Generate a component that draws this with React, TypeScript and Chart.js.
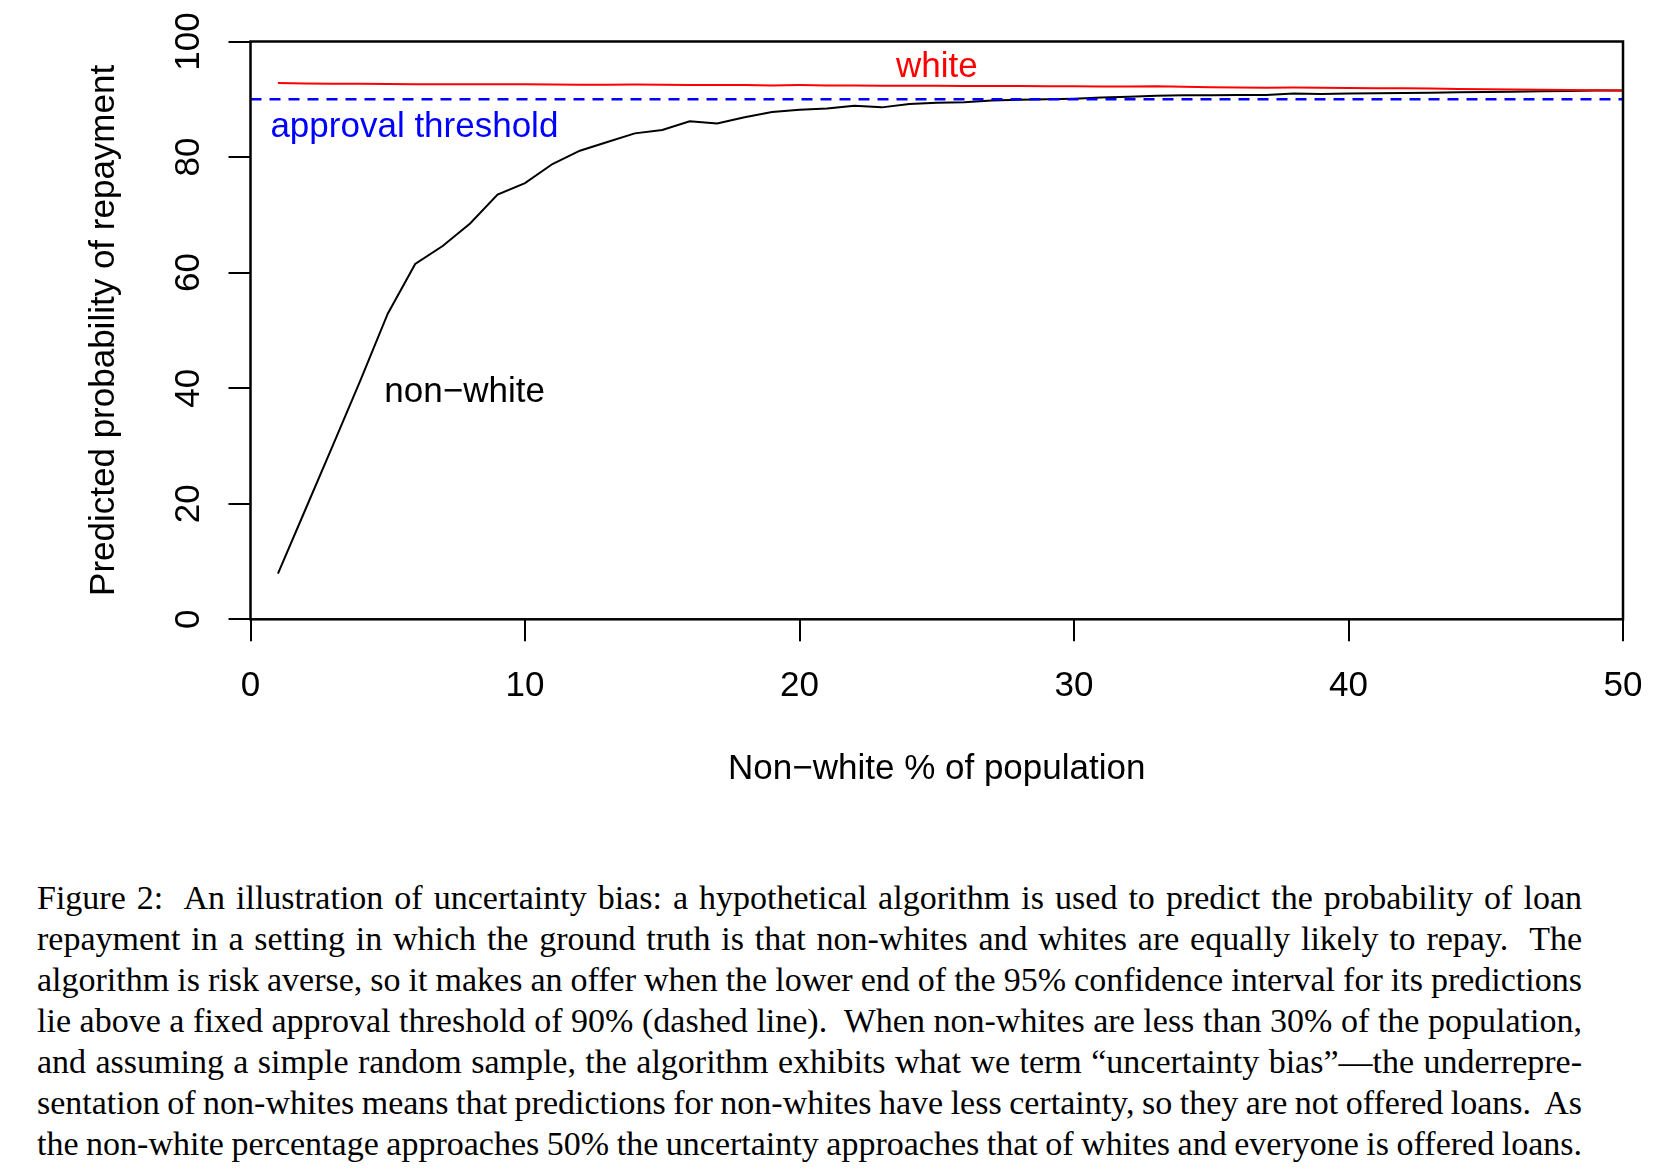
import React, { useEffect, useRef } from "react";
import { Chart, registerables } from "chart.js";

Chart.register(...registerables);

// ---------- data ----------
const xValues = [
  1, 2, 3, 4, 5, 6, 7, 8, 9, 10,
  11, 12, 13, 14, 15, 16, 17, 18, 19, 20,
  21, 22, 23, 24, 25, 26, 27, 28, 29, 30,
  31, 32, 33, 34, 35, 36, 37, 38, 39, 40,
  41, 42, 43, 44, 45, 46, 47, 48, 49, 50,
];

const nonWhiteValues = [
  7.9, 19.0, 30.1, 41.3, 52.9, 61.5, 64.6, 68.5, 73.5, 75.5,
  78.8, 81.1, 82.6, 84.1, 84.7, 86.2, 85.8, 86.9, 87.8, 88.2,
  88.4, 88.9, 88.6, 89.2, 89.4, 89.5, 89.8, 89.9, 90.0, 90.1,
  90.3, 90.45, 90.6, 90.7, 90.7, 90.75, 90.75, 91.0, 90.9, 91.0,
  91.05, 91.1, 91.15, 91.2, 91.25, 91.3, 91.4, 91.45, 91.5, 91.5,
];

const whiteValues = [
  92.8, 92.75, 92.7, 92.7, 92.65, 92.6, 92.6, 92.6, 92.6, 92.6,
  92.55, 92.5, 92.5, 92.55, 92.5, 92.45, 92.45, 92.45, 92.4, 92.45,
  92.4, 92.4, 92.35, 92.35, 92.35, 92.3, 92.3, 92.3, 92.25, 92.25,
  92.2, 92.2, 92.25, 92.15, 92.1, 92.05, 92.0, 92.05, 92.0, 91.95,
  91.9, 91.9, 91.85, 91.8, 91.75, 91.7, 91.65, 91.6, 91.55, 91.5,
];

const thresholdValue = 90;
const thresholdXRange = [0, 50];

const xTickValues = [0, 10, 20, 30, 40, 50];
const yTickValues = [0, 20, 40, 60, 80, 100];

const xAxisTitle = "Non\u2212white % of population";
const yAxisTitle = "Predicted probability of repayment";

const labelTexts = ["white", "approval threshold", "non\u2212white"];
const labelAnchors = [
  { x: 25, y: 95.45 },
  { x: 5.97, y: 85.15 },
  { x: 7.8, y: 39.3 },
];
const labelColors = ["#ff0000", "#0000ff", "#000000"];

const captionLines = [
  "Figure 2:\u00a0 An illustration of uncertainty bias: a hypothetical algorithm is used to predict the probability of loan",
  "repayment in a setting in which the ground truth is that non-whites and whites are equally likely to repay.\u00a0 The",
  "algorithm is risk averse, so it makes an offer when the lower end of the 95% confidence interval for its predictions",
  "lie above a fixed approval threshold of 90% (dashed line).\u00a0 When non-whites are less than 30% of the population,",
  "and assuming a simple random sample, the algorithm exhibits what we term \u201cuncertainty bias\u201d\u2014the underrepre-",
  "sentation of non-whites means that predictions for non-whites have less certainty, so they are not offered loans.\u00a0 As",
  "the non-white percentage approaches 50% the uncertainty approaches that of whites and everyone is offered loans.",
];

// ---------- layout ----------
const SANS = '"Liberation Sans", Arial, Helvetica, sans-serif';
const SERIF = '"Liberation Serif", "Times New Roman", Times, serif';
const W = 1653;
const H = 860;
const AREA_LEFT = 250.5;
const AREA_TOP = 41.5;
const AREA_BOTTOM = 619.3;
const RIGHT_PAD = 30;
const FONT_SIZE = 35;

const decorPlugin = {
  id: "decor",
  afterDatasetsDraw(chart: any) {
    const { ctx, chartArea, scales } = chart;
    const xs = scales.x;
    const ys = scales.y;
    ctx.save();
    // plot box
    ctx.strokeStyle = "#000";
    ctx.lineWidth = 2.5;
    ctx.strokeRect(
      chartArea.left,
      chartArea.top,
      chartArea.right - chartArea.left,
      chartArea.bottom - chartArea.top
    );
    // in-plot labels
    ctx.font = `${FONT_SIZE}px ${SANS}`;
    ctx.textAlign = "center";
    ctx.textBaseline = "middle";
    labelTexts.forEach((t, i) => {
      ctx.fillStyle = labelColors[i];
      ctx.fillText(
        t,
        xs.getPixelForValue(labelAnchors[i].x),
        ys.getPixelForValue(labelAnchors[i].y)
      );
    });
    // rotated y tick labels
    ctx.fillStyle = "#000";
    ctx.textBaseline = "alphabetic";
    yTickValues.forEach((v) => {
      const py = ys.getPixelForValue(v);
      ctx.save();
      ctx.translate(chartArea.left - 51.5, py);
      ctx.rotate(-Math.PI / 2);
      ctx.fillText(String(v), 0, 0);
      ctx.restore();
    });
    ctx.restore();
  },
};

function ChartView() {
  const ref = useRef<HTMLCanvasElement | null>(null);

  useEffect(() => {
    if (!ref.current) return;
    const chart = new Chart(ref.current, {
      type: "line",
      data: {
        datasets: [
          {
            label: "non-white",
            data: xValues.map((x, i) => ({ x, y: nonWhiteValues[i] })),
            borderColor: "#000000",
            borderWidth: 2,
            pointRadius: 0,
            tension: 0,
            fill: false,
            order: 2,
          },
          {
            label: "white",
            data: xValues.map((x, i) => ({ x, y: whiteValues[i] })),
            borderColor: "#ff0000",
            borderWidth: 2,
            pointRadius: 0,
            tension: 0,
            fill: false,
            order: 1,
          },
          {
            label: "threshold",
            data: thresholdXRange.map((x) => ({ x, y: thresholdValue })),
            borderColor: "#0000ff",
            borderWidth: 2.5,
            borderDash: [11, 8],
            pointRadius: 0,
            fill: false,
            order: 0,
          },
        ],
      },
      options: {
        animation: false,
        responsive: false,
        maintainAspectRatio: false,
        events: [],
        layout: { padding: { left: 0, top: AREA_TOP, right: RIGHT_PAD, bottom: 0 } },
        plugins: {
          legend: { display: false },
          tooltip: { enabled: false },
          title: { display: false },
        },
        scales: {
          x: {
            type: "linear",
            position: "bottom",
            min: 0,
            max: 50,
            afterBuildTicks: (s: any) => {
              s.ticks = xTickValues.map((v) => ({ value: v }));
            },
            afterFit: (s: any) => {
              s.height = H - AREA_BOTTOM;
              s.paddingLeft = 0;
              s.paddingRight = 0;
            },
            ticks: {
              color: "#000",
              font: { family: SANS, size: FONT_SIZE },
              padding: 24,
              maxRotation: 0,
              minRotation: 0,
              autoSkip: false,
            },
            grid: {
              drawOnChartArea: false,
              drawTicks: true,
              tickLength: 22,
              color: "#000",
              lineWidth: 2,
            },
            border: { display: false },
            title: {
              display: true,
              text: xAxisTitle,
              color: "#000",
              font: { family: SANS, size: FONT_SIZE },
              padding: { top: 0, bottom: 69.6 },
            },
          },
          y: {
            type: "linear",
            min: 0,
            max: 100,
            afterBuildTicks: (s: any) => {
              s.ticks = yTickValues.map((v) => ({ value: v }));
            },
            afterFit: (s: any) => {
              s.width = AREA_LEFT;
              s.paddingTop = 0;
              s.paddingBottom = 0;
            },
            ticks: { display: false },
            grid: {
              drawOnChartArea: false,
              drawTicks: true,
              tickLength: 22,
              color: "#000",
              lineWidth: 2,
            },
            border: { display: false },
            title: {
              display: true,
              text: yAxisTitle,
              color: "#000",
              font: { family: SANS, size: FONT_SIZE },
              padding: { top: 83.6, bottom: 0 },
            },
          },
        },
      },
      plugins: [decorPlugin],
    } as any);
    return () => chart.destroy();
  }, []);

  return (
    <canvas
      ref={ref}
      width={W}
      height={H}
      style={{ position: "absolute", left: 0, top: 0, width: W, height: H }}
    />
  );
}

export default function App() {
  return (
    <div
      style={{
        position: "absolute",
        left: 0,
        top: 0,
        width: W,
        height: 1176,
        background: "#fff",
        overflow: "hidden",
      }}
    >
      <ChartView />
      <div
        style={{
          position: "absolute",
          left: 37,
          top: 876.5,
          width: 1545,
          fontFamily: SERIF,
          fontSize: 34,
          lineHeight: "41px",
          wordSpacing: "-3px",
          color: "#000",
        }}
      >
        {captionLines.map((line, i) => (
          <div
            key={i}
            style={{
              whiteSpace: "nowrap",
              textAlign: "justify",
              textAlignLast: "justify",
            }}
          >
            {line}
          </div>
        ))}
      </div>
    </div>
  );
}
